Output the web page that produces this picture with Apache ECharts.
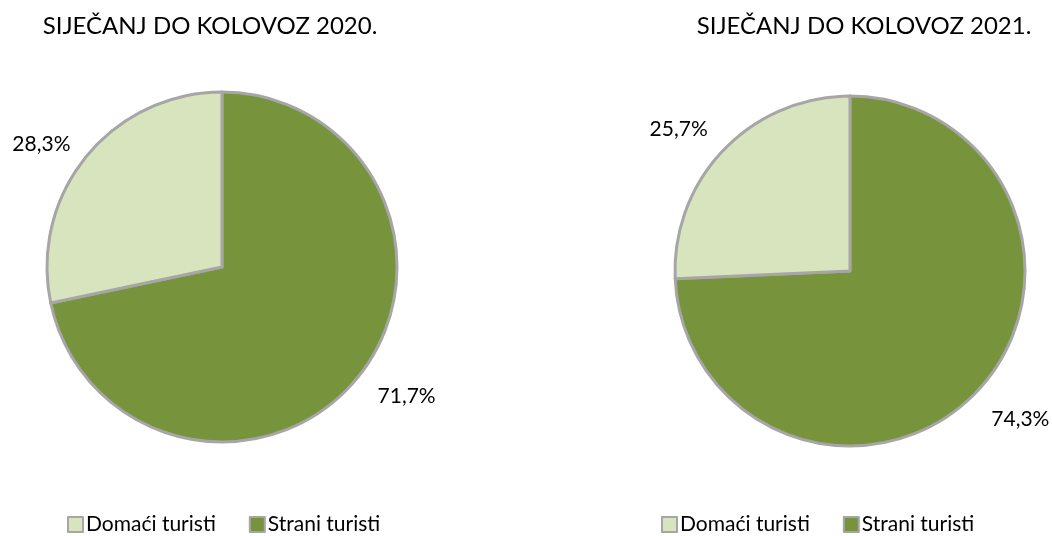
<!DOCTYPE html>
<html><head><meta charset="utf-8">
<script src="https://cdn.jsdelivr.net/npm/echarts@6/dist/echarts.min.js"></script>
<style>html,body{margin:0;padding:0;background:#fff}#c{width:1052px;height:536px}</style>
</head><body><div id="c"></div>
<script>
const categories = ['Domaći turisti', 'Strani turisti'];
const titles = ['SIJEČANJ DO KOLOVOZ 2020.', 'SIJEČANJ DO KOLOVOZ 2021.'];
const values2020 = [28.3, 71.7];
const values2021 = [25.7, 74.3];
const colors = ['#D7E4BD', '#77933C'];
const FONT = 'Lato, "Open Sans", sans-serif';

// label nudges [seriesIndex][categoryIndex] -> [dx, dy]
const nudges = [
  [[1, -3], [3, 10]],
  [[0, -10], [-1, 17]]
];

function mkData(vals) {
  // foreign first so it starts at 12 o'clock clockwise
  return [1, 0].map(i => ({ name: categories[i], value: vals[i], itemStyle: { color: colors[i] } }));
}
function mkSeries(vals, center, si) {
  const data = mkData(vals);
  return {
    type: 'pie', center: center, radius: 175, startAngle: 90, clockwise: true,
    avoidLabelOverlap: false, animation: false,
    itemStyle: { borderColor: '#A6A6A6', borderWidth: 3 },
    label: { show: true, position: 'outside', color: '#000', fontFamily: FONT, fontSize: 21,
      formatter: p => p.value.toFixed(1).replace('.', ',') + '%' },
    labelLine: { show: false, length: 15, length2: 0 },
    labelLayout: p => {
      const ci = categories.indexOf(data[p.dataIndex].name);
      const n = nudges[si][ci];
      return { dx: n[0], dy: n[1] };
    },
    emphasis: { disabled: true },
    data: data
  };
}
const chart = echarts.init(document.getElementById('c'));
const legendCommon = {
  orient: 'horizontal', itemWidth: 15, itemHeight: 15, itemGap: 33, icon: 'rect',
  textStyle: { fontFamily: FONT, fontSize: 21, color: '#000', padding: [0, 0, 0, -2] },
  itemStyle: { borderColor: '#A6A6A6', borderWidth: 2 },
  data: categories, selectedMode: false
};
const titleStyle = { fontFamily: FONT, fontSize: 24, fontWeight: 'normal', color: '#000' };
chart.setOption({
  color: colors,
  title: [
    { text: titles[0], left: 205, top: 9, textAlign: 'center', textStyle: titleStyle },
    { text: titles[1], left: 859, top: 9, textAlign: 'center', textStyle: titleStyle }
  ],
  legend: [
    Object.assign({}, legendCommon, { left: 62, top: 509, seriesIndex: 0 }),
    Object.assign({}, legendCommon, { left: 656, top: 509, seriesIndex: 1 })
  ],
  series: [
    mkSeries(values2020, [222, 267], 0),
    mkSeries(values2021, [850, 271], 1)
  ]
});
</script></body></html>
